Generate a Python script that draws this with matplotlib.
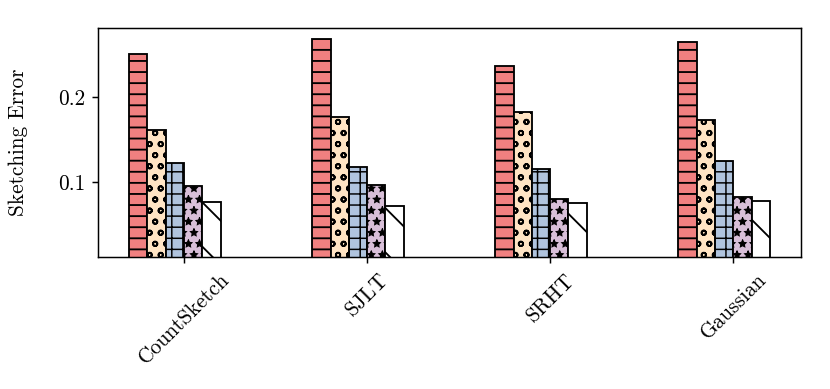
import numpy as np
import matplotlib
matplotlib.use('Agg')
import matplotlib.pyplot as plt

methods = ['CountSketch', 'SJLT', 'SRHT', 'Gaussian']
# five series per method
series_1 = [0.2506, 0.2682, 0.2365, 0.2647]
series_2 = [0.1612, 0.1765, 0.1824, 0.1729]
series_3 = [0.1224, 0.1176, 0.1153, 0.1247]
series_4 = [0.0953, 0.0965, 0.0800, 0.0824]
series_5 = [0.0765, 0.0718, 0.0753, 0.0776]

colors = ['#F08080', '#FFE4C4', '#B0C4DE', '#D8BFD8', '#FFFFFF']
hatches = ['--', 'oo', '++', '**', '\\']
hatch_lw = [1.0, 1.0, 0.8, 0.6, 1.0]

plt.rcParams['font.family'] = 'serif'
plt.rcParams['font.serif'] = ['cmr10']
plt.rcParams['mathtext.fontset'] = 'cm'
plt.rcParams['axes.formatter.use_mathtext'] = True
plt.rcParams['hatch.linewidth'] = 1.0

dpi = 133
fig = plt.figure(figsize=(830 / dpi, 389 / dpi), dpi=dpi)
ax = fig.add_axes([98 / 830, 1 - 257 / 389, 703 / 830, 229 / 389])

x = np.arange(len(methods))
w = 0.1
all_series = [series_1, series_2, series_3, series_4, series_5]
for i, vals in enumerate(all_series):
    bars = ax.bar(x + (i - 2.5) * w, vals, width=w, color=colors[i],
                  edgecolor='black', hatch=hatches[i], linewidth=1.0)
    for b in bars:
        if hasattr(b, 'set_hatch_linewidth'):
            b.set_hatch_linewidth(hatch_lw[i])

ax.set_xlim(-0.47, 3.37)
ax.set_ylim(0.0118, 0.2812)
ax.set_yticks([0.1, 0.2])
ax.set_yticklabels(['0.1', '0.2'])
ax.set_xticks(x)
ax.set_xticklabels(methods, rotation=45)
ax.tick_params(labelsize=11.5, width=0.8, length=3.5)
ax.set_ylabel('Sketching Error', fontsize=11.5, labelpad=16)
for s in ax.spines.values():
    s.set_linewidth(0.8)

fig.savefig('out.png', dpi=dpi)
